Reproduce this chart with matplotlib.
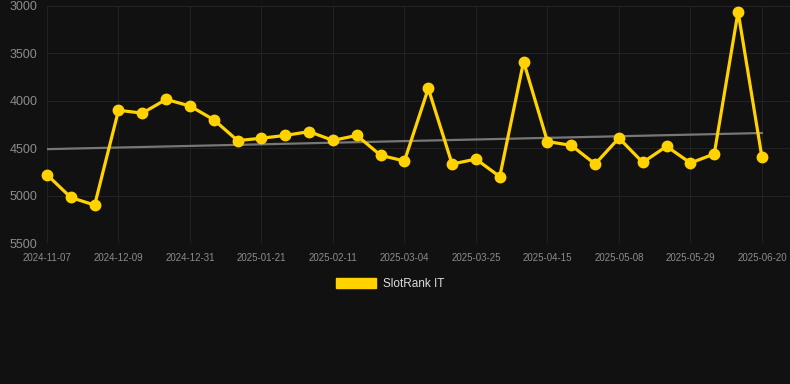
import matplotlib
matplotlib.use("Agg")
import matplotlib.pyplot as plt
import matplotlib.patches as mpatches
import numpy as np

dates = ["2024-11-07", "2024-11-18", "2024-11-28", "2024-12-09", "2024-12-16",
         "2024-12-23", "2024-12-31", "2025-01-07", "2025-01-14", "2025-01-21",
         "2025-01-28", "2025-02-04", "2025-02-11", "2025-02-18", "2025-02-25",
         "2025-03-04", "2025-03-11", "2025-03-18", "2025-03-25", "2025-04-01",
         "2025-04-08", "2025-04-15", "2025-04-23", "2025-04-30", "2025-05-08",
         "2025-05-15", "2025-05-22", "2025-05-29", "2025-06-05", "2025-06-12",
         "2025-06-20"]
rank = [4780, 5020, 5100, 4100, 4130, 3985, 4055, 4200, 4420, 4395,
        4365, 4325, 4418, 4365, 4575, 4635, 3870, 4667, 4615, 4800,
        3587, 4430, 4470, 4667, 4393, 4650, 4480, 4656, 4561, 3060,
        4593]
trend = [4510, 4340]  # trend line values at first and last date
yticks = [3000, 3500, 4000, 4500, 5000, 5500]
series_name = "SlotRank IT"

plt.rcParams['font.family'] = ['Liberation Sans', 'DejaVu Sans']

BG = "#111111"
GOLD = "#FFD200"

fig = plt.figure(figsize=(7.9, 3.84), dpi=100, facecolor=BG)
ax = fig.add_axes([47/790, 141/384, 743/790, 237/384], facecolor=BG)

x = np.arange(len(rank))
ax.plot([x[0], x[-1]], trend, color="#777777", lw=1.6, zorder=2)

ax.plot(x, rank, color=GOLD, lw=2.3, marker="o", ms=7.5, mfc=GOLD, mec=GOLD,
        zorder=3, clip_on=False)

ax.set_ylim(5500, 3000)
ax.set_xlim(0, (790 - 47) / 23.83)
ax.set_yticks(yticks)
ax.set_yticklabels([str(v) for v in yticks])
ax.set_xticks(x[::3])
ax.set_xticklabels(dates[::3])

ax.grid(True, color="#222222", lw=0.8, zorder=0)
for s in ax.spines.values():
    s.set_visible(False)
ax.tick_params(axis="y", length=0, pad=7, labelsize=9, labelcolor="#8c8c8c")
ax.tick_params(axis="x", length=0, pad=7, labelsize=7, labelcolor="#8c8c8c")

handle = mpatches.Rectangle((0, 0), 1, 1, facecolor=GOLD, edgecolor=GOLD)
fig.legend([handle], [series_name], loc="center", bbox_to_anchor=(390/790, 1 - 284/384),
           frameon=False, fontsize=8.5, labelcolor="#dddddd", handlelength=3.4,
           handleheight=0.85, handletextpad=0.6)

fig.savefig("out.png", dpi=100, facecolor=BG)
